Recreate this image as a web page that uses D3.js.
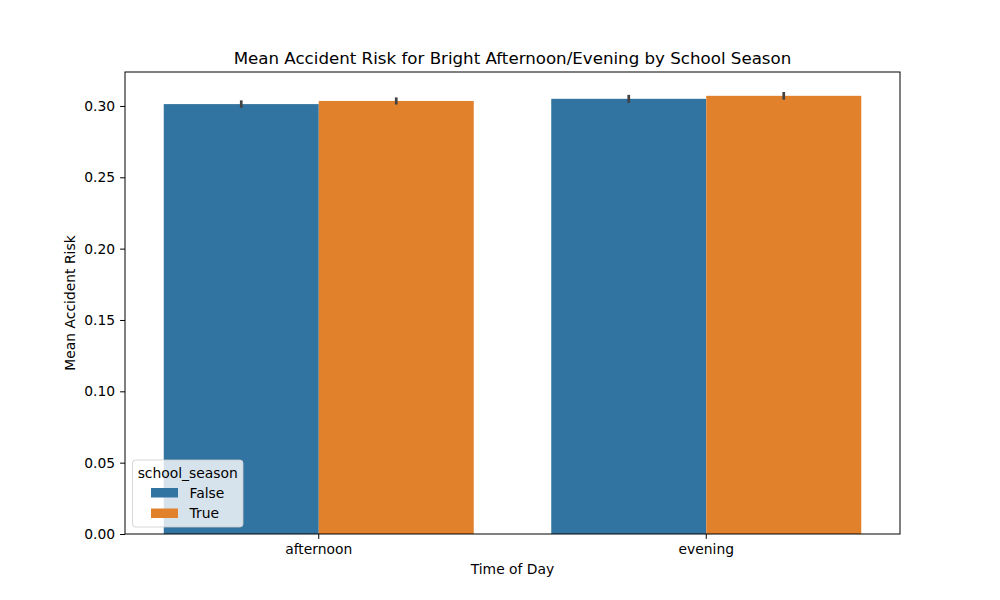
<!DOCTYPE html>
<html>
<head>
<meta charset="utf-8">
<script src="https://cdn.jsdelivr.net/npm/d3@7"></script>
<style>
  body { margin: 0; background: #fff; }
  svg { font-family: "DejaVu Sans", sans-serif; }
</style>
</head>
<body>
<svg id="chart" width="1000" height="600"></svg>
<script>
"use strict";

// Data
var times = ["afternoon", "evening"];
var seasons = ["False", "True"];
var riskFalse = [0.3013, 0.3050];
var riskTrue = [0.3035, 0.3071];
var ciFalse = [0.0026, 0.0028];
var ciTrue = [0.0025, 0.0027];
var yTicks = [0.00, 0.05, 0.10, 0.15, 0.20, 0.25, 0.30];
var colors = ["#3274a1", "#e1812c"];

var svg = d3.select("#chart");
var m = { left: 125, right: 900, top: 72, bottom: 534 };
var fs = "13.89px";

var x = d3.scaleBand().domain(times).range([m.left, m.right]).padding(0);
var xs = d3.scaleBand().domain(seasons).range([0, x.bandwidth() * 0.8]);
var y = d3.scaleLinear().domain([0, 0.3238]).range([m.bottom, m.top]);

// bars
var rows = [];
times.forEach(function(t, i) {
    rows.push({ time: t, season: "False", v: riskFalse[i], ci: ciFalse[i], c: colors[0] });
    rows.push({ time: t, season: "True", v: riskTrue[i], ci: ciTrue[i], c: colors[1] });
});

function barX(d) { return x(d.time) + x.bandwidth() * 0.1 + xs(d.season); }

var g = svg.append("g");
g.selectAll("rect.bar").data(rows).enter().append("rect")
    .attr("class", "bar")
    .attr("x", barX)
    .attr("y", function(d) { return y(d.v); })
    .attr("width", xs.bandwidth())
    .attr("height", function(d) { return y(0) - y(d.v); })
    .attr("fill", function(d) { return d.c; });

// error bars
g.selectAll("line.err").data(rows).enter().append("line")
    .attr("class", "err")
    .attr("x1", function(d) { return barX(d) + xs.bandwidth() / 2; })
    .attr("x2", function(d) { return barX(d) + xs.bandwidth() / 2; })
    .attr("y1", function(d) { return y(d.v - d.ci); })
    .attr("y2", function(d) { return y(d.v + d.ci); })
    .attr("stroke", "#424242")
    .attr("stroke-width", 2.7);

// axes
var xAxis = svg.append("g")
    .attr("transform", "translate(0," + m.bottom + ")")
    .call(d3.axisBottom(x).tickSize(4.9).tickPadding(4.9));
var yAxis = svg.append("g")
    .attr("transform", "translate(" + m.left + ",0)")
    .call(d3.axisLeft(y).tickValues(yTicks).tickFormat(d3.format(".2f")).tickSize(4.9).tickPadding(4.9));
[xAxis, yAxis].forEach(function(a) {
    a.select(".domain").remove();
    a.selectAll("text").attr("font-size", fs).attr("fill", "#000")
        .attr("font-family", "DejaVu Sans, sans-serif");
    a.selectAll("line").attr("stroke", "#000").attr("stroke-width", 1);
});

// frame
svg.append("rect")
    .attr("x", m.left).attr("y", m.top)
    .attr("width", m.right - m.left).attr("height", m.bottom - m.top)
    .attr("fill", "none").attr("stroke", "#000").attr("stroke-width", 1);

// titles
svg.append("text")
    .attr("x", (m.left + m.right) / 2).attr("y", 64)
    .attr("text-anchor", "middle").attr("font-size", "16.67px")
    .text("Mean Accident Risk for Bright Afternoon/Evening by School Season");
svg.append("text")
    .attr("x", (m.left + m.right) / 2).attr("y", 574)
    .attr("text-anchor", "middle").attr("font-size", fs)
    .text("Time of Day");
svg.append("text")
    .attr("transform", "translate(75," + ((m.top + m.bottom) / 2) + ") rotate(-90)")
    .attr("text-anchor", "middle").attr("font-size", fs)
    .text("Mean Accident Risk");

// legend
var lg = svg.append("g").attr("transform", "translate(132.5,460)");
lg.append("rect")
    .attr("width", 110.5).attr("height", 67).attr("rx", 3)
    .attr("fill", "#fff").attr("fill-opacity", 0.8)
    .attr("stroke", "#cccccc").attr("stroke-opacity", 0.8);
lg.append("text").attr("x", 55.25).attr("y", 17.5)
    .attr("text-anchor", "middle").attr("font-size", fs)
    .text("school_season");
seasons.forEach(function(s, i) {
    lg.append("rect")
        .attr("x", 18.5).attr("y", 28 + i * 20.5)
        .attr("width", 27).attr("height", 9.5)
        .attr("fill", colors[i]);
    lg.append("text")
        .attr("x", 57).attr("y", 37.5 + i * 20.5)
        .attr("font-size", fs)
        .text(s);
});
</script>
</body>
</html>
